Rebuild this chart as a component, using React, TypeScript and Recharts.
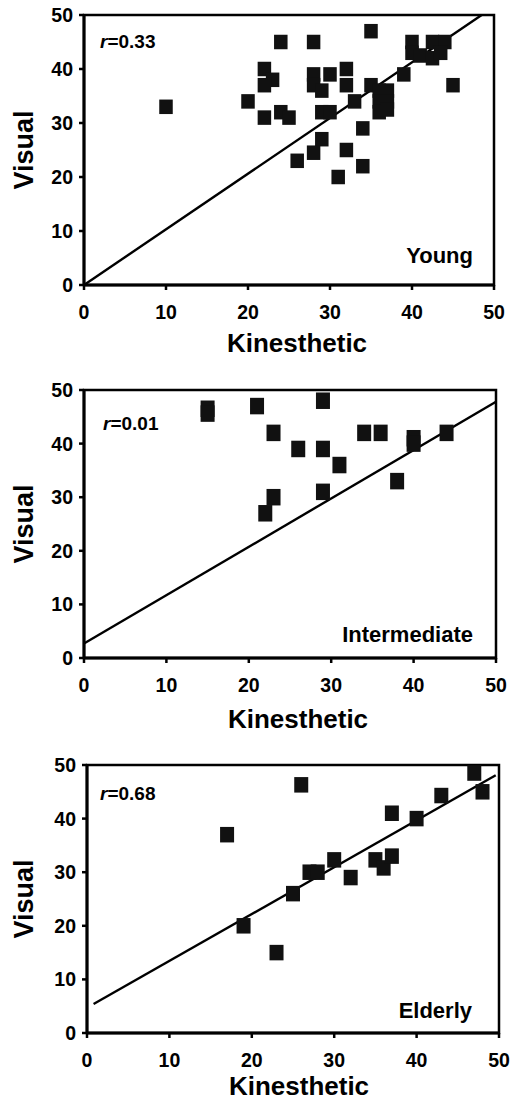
import React from 'react'
import { ScatterChart, Scatter, XAxis, YAxis, ReferenceArea, ReferenceLine } from 'recharts'

const FONT = '"Liberation Sans", Arial, Helvetica, sans-serif'

const axisTicks = [0, 10, 20, 30, 40, 50]

// Young
const youngKin = [10, 20, 22, 23, 22, 22, 24, 24, 25, 26, 28, 28, 28, 29, 30, 32, 32, 33, 35, 36, 37, 36, 37, 36, 37, 29, 30, 34, 29, 28, 32, 34, 31, 35, 40, 42.5, 44, 40, 41, 42.5, 43.5, 39, 45]
const youngVis = [33, 34, 40, 38, 37, 31, 45, 32, 31, 23, 45, 39, 37, 36, 39, 40, 37, 34, 37, 36, 36, 34, 34, 32, 32.5, 32, 32, 29, 27, 24.5, 25, 22, 20, 47, 45, 45, 45, 43, 42.5, 42, 43, 39, 37]
const youngFitKin = [0, 48.5]
const youngFitVis = [0, 50]

// Intermediate
const interKin = [15, 15, 21, 23, 26, 23, 22, 29, 29, 31, 34, 36, 40, 40, 44, 38, 29]
const interVis = [46.5, 45.6, 47, 42, 39, 30, 27, 48, 39, 36, 42, 42, 41, 40, 42, 33, 31]
const interFitKin = [0, 50]
const interFitVis = [2.7, 47.8]

// Elderly
const elderKin = [17, 19, 23, 25, 26, 27, 28, 30, 32, 35, 36, 37, 37, 40, 43, 47, 48]
const elderVis = [37, 20, 15, 26, 46.3, 30, 30, 32.3, 29, 32.3, 30.8, 33, 41, 40, 44.3, 48.5, 45]
const elderFitKin = [0.8, 49.6]
const elderFitVis = [5.4, 48.1]

const panels = [
  {
    r: '0.33', group: 'Young',
    kin: youngKin, vis: youngVis, fitKin: youngFitKin, fitVis: youngFitVis,
    top: 15, bottom: 285, left: 84, right: 494, markW: 13.5, markH: 14.5,
    rPos: [100, 48], groupPos: [473, 263], kinPos: [297, 352], visPos: [33, 150],
  },
  {
    r: '0.01', group: 'Intermediate',
    kin: interKin, vis: interVis, fitKin: interFitKin, fitVis: interFitVis,
    top: 390, bottom: 658, left: 84, right: 496, markW: 14, markH: 16.5,
    rPos: [103, 430], groupPos: [473, 642], kinPos: [298, 728], visPos: [33, 524],
  },
  {
    r: '0.68', group: 'Elderly',
    kin: elderKin, vis: elderVis, fitKin: elderFitKin, fitVis: elderFitVis,
    top: 765, bottom: 1033, left: 87, right: 499, markW: 14, markH: 15.5,
    rPos: [100, 800], groupPos: [472, 1018], kinPos: [299, 1095], visPos: [33, 899],
  },
]

const tickStyle = { fill: '#000', fontSize: 19.5, fontWeight: 'bold', fontFamily: FONT }

function Panel({ p }: { p: any }) {
  const data = p.kin.map((x: number, i: number) => ({ x, y: p.vis[i] }))
  const seg = p.fitKin.map((x: number, i: number) => ({ x, y: p.fitVis[i] }))
  const plotH = p.bottom - p.top
  const chartH = 10 + plotH + 80

  const Square = (props: any) => (
    <rect
      x={props.cx - p.markW / 2}
      y={props.cy - p.markH / 2}
      width={p.markW}
      height={p.markH}
      fill="#111"
    />
  )

  return (
    <div style={{ position: 'absolute', left: 0, top: p.top - 10 }}>
      <ScatterChart
        width={513}
        height={chartH}
        margin={{ top: 10, right: 513 - p.right, left: 0, bottom: 0 }}
      >
        <XAxis
          type="number"
          dataKey="x"
          domain={[0, 50]}
          ticks={axisTicks}
          interval={0}
          height={80}
          tickSize={5}
          tickMargin={15}
          tick={tickStyle}
          axisLine={{ stroke: '#000', strokeWidth: 3 }}
          tickLine={{ stroke: '#000', strokeWidth: 2.5 }}
        />
        <YAxis
          type="number"
          dataKey="y"
          domain={[0, 50]}
          ticks={axisTicks}
          interval={0}
          width={p.left}
          tickSize={5}
          tickMargin={6}
          tick={tickStyle}
          axisLine={{ stroke: '#000', strokeWidth: 3 }}
          tickLine={{ stroke: '#000', strokeWidth: 2.5 }}
        />
        <ReferenceArea x1={0} x2={50} y1={0} y2={50} fill="none" fillOpacity={0} stroke="#000" strokeWidth={2.5} />
        <ReferenceLine segment={seg} stroke="#000" strokeWidth={2.4} />
        <Scatter data={data} shape={Square} isAnimationActive={false} />
      </ScatterChart>
    </div>
  )
}

export default function App() {
  return (
    <div style={{ position: 'absolute', left: 0, top: 0, width: 513, height: 1102, background: '#fff' }}>
      {panels.map((p) => (
        <Panel key={p.group} p={p} />
      ))}
      <svg
        width={513}
        height={1102}
        style={{ position: 'absolute', left: 0, top: 0, pointerEvents: 'none' }}
        fontFamily={FONT}
        fontWeight="bold"
        fill="#000"
      >
        {panels.map((p) => (
          <g key={p.group}>
            <text x={p.rPos[0]} y={p.rPos[1]} fontSize={19}>
              <tspan fontStyle="italic">r</tspan>={p.r}
            </text>
            <text x={p.groupPos[0]} y={p.groupPos[1]} fontSize={22} textAnchor="end">
              {p.group}
            </text>
            <text x={p.kinPos[0]} y={p.kinPos[1]} fontSize={26} textAnchor="middle">
              Kinesthetic
            </text>
            <text
              transform={`translate(${p.visPos[0]}, ${p.visPos[1]}) rotate(-90)`}
              fontSize={27}
              textAnchor="middle"
            >
              Visual
            </text>
          </g>
        ))}
      </svg>
    </div>
  )
}
